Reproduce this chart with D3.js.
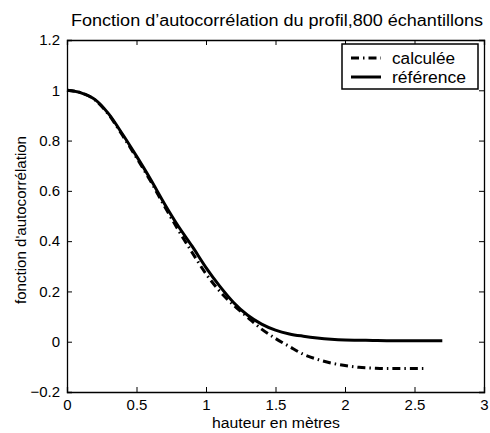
<!DOCTYPE html>
<html>
<head>
<meta charset="utf-8">
<script src="https://cdn.jsdelivr.net/npm/d3@7"></script>
<style>
  html, body { margin: 0; padding: 0; background: #fff; }
  svg { display: block; font-family: "Liberation Sans", Arial, Helvetica, sans-serif; }
</style>
</head>
<body>
<svg id="chart" width="490" height="433"></svg>
<script>
// ---- data ----
const title = "Fonction d\u2019autocorrélation du profil,800 échantillons";
const xLabel = "hauteur en mètres";
const yLabel = "fonction d'autocorrélation";
const seriesNames = ["calculée", "référence"];

const xTicks = [0, 0.5, 1, 1.5, 2, 2.5, 3];
const yTicks = [-0.2, 0, 0.2, 0.4, 0.6, 0.8, 1, 1.2];

const refX = [0, 0.1, 0.2, 0.3, 0.4, 0.5, 0.6, 0.7, 0.8, 0.9, 1.0, 1.1, 1.2, 1.3, 1.4, 1.5, 1.6, 1.7, 1.8, 1.9, 2.0, 2.1, 2.2, 2.3, 2.4, 2.5, 2.6, 2.7];
const refY = [1.0, 0.99, 0.964, 0.906, 0.825, 0.738, 0.647, 0.55, 0.46, 0.38, 0.295, 0.22, 0.155, 0.105, 0.07, 0.046, 0.031, 0.022, 0.015, 0.01, 0.007, 0.006, 0.005, 0.004, 0.004, 0.004, 0.004, 0.004];

const calcX = [0, 0.1, 0.2, 0.3, 0.4, 0.5, 0.6, 0.7, 0.8, 0.9, 1.0, 1.1, 1.2, 1.3, 1.4, 1.5, 1.6, 1.7, 1.8, 1.9, 2.0, 2.1, 2.2, 2.3, 2.4, 2.5, 2.57];
const calcY = [1.0, 0.99, 0.962, 0.903, 0.82, 0.732, 0.64, 0.54, 0.445, 0.355, 0.27, 0.2, 0.145, 0.097, 0.05, 0.013, -0.019, -0.05, -0.07, -0.085, -0.095, -0.102, -0.105, -0.107, -0.107, -0.107, -0.107];

// ---- layout ----
const svg = d3.select("#chart");
const L = 67, R = 484, T = 40, B = 392;
const x = d3.scaleLinear().domain([0, 3]).range([L, R]);
const y = d3.scaleLinear().domain([-0.2, 1.2]).range([B, T]);
const fmt = v => (v < 0 ? "\u2212" + Math.abs(v) : String(v));

// Axes (MATLAB style: ticks inward, box on)
const tickLen = 5;
const gx = svg.append("g").attr("transform", `translate(0,${B})`)
  .call(d3.axisBottom(x).tickValues(xTicks).tickFormat(fmt).tickSize(-tickLen).tickPadding(7));
const gxTop = svg.append("g").attr("transform", `translate(0,${T})`)
  .call(d3.axisTop(x).tickValues(xTicks).tickFormat("").tickSize(-tickLen));
const gy = svg.append("g").attr("transform", `translate(${L},0)`)
  .call(d3.axisLeft(y).tickValues(yTicks).tickFormat(fmt).tickSize(-tickLen).tickPadding(7));
const gyR = svg.append("g").attr("transform", `translate(${R},0)`)
  .call(d3.axisRight(y).tickValues(yTicks).tickFormat("").tickSize(-tickLen));

[gx, gxTop, gy, gyR].forEach(g => {
  g.select(".domain").attr("stroke", "#000").attr("stroke-width", 1.3);
  g.selectAll(".tick line").attr("stroke", "#000").attr("stroke-width", 1);
  g.selectAll(".tick text").attr("fill", "#000").style("font-size", "15px")
    .style("font-family", "'Liberation Sans', Arial, sans-serif");
});

// Lines
const line = d3.line().x(d => x(d[0])).y(d => y(d[1])).curve(d3.curveMonotoneX);
const refData = refX.map((v, i) => [v, refY[i]]);
const calcData = calcX.map((v, i) => [v, calcY[i]]);

svg.append("path").datum(calcData).attr("d", line)
  .attr("fill", "none").attr("stroke", "#000").attr("stroke-width", 3)
  .attr("stroke-dasharray", "8,4,1.5,4");
svg.append("path").datum(refData).attr("d", line)
  .attr("fill", "none").attr("stroke", "#000").attr("stroke-width", 3);

// Title and labels
svg.append("text").attr("x", 277).attr("y", 26)
  .attr("text-anchor", "middle").style("font-size", "16px")
  .attr("textLength", 412).attr("lengthAdjust", "spacingAndGlyphs").text(title);
svg.append("text").attr("x", 276).attr("y", 428)
  .attr("text-anchor", "middle").style("font-size", "14px")
  .attr("textLength", 128).attr("lengthAdjust", "spacingAndGlyphs").text(xLabel);
svg.append("text").attr("transform", `translate(26,${220}) rotate(-90)`)
  .attr("text-anchor", "middle").style("font-size", "15px")
  .attr("textLength", 168).attr("lengthAdjust", "spacingAndGlyphs").text(yLabel);

// Legend
const lg = svg.append("g");
lg.append("rect").attr("x", 342).attr("y", 44).attr("width", 136).attr("height", 45)
  .attr("fill", "#fff").attr("stroke", "#000").attr("stroke-width", 1.5);
const rows = [
  { name: seriesNames[0], dash: "8,4,1.5,4", yy: 58, w: 63 },
  { name: seriesNames[1], dash: null, yy: 77, w: 74 }
];
rows.forEach(r => {
  lg.append("line").attr("x1", 351).attr("x2", 381).attr("y1", r.yy).attr("y2", r.yy)
    .attr("stroke", "#000").attr("stroke-width", 3)
    .attr("stroke-dasharray", r.dash);
  lg.append("text").attr("x", 392).attr("y", r.yy + 6).style("font-size", "16px")
    .attr("textLength", r.w).attr("lengthAdjust", "spacingAndGlyphs").text(r.name);
});
</script>
</body>
</html>
